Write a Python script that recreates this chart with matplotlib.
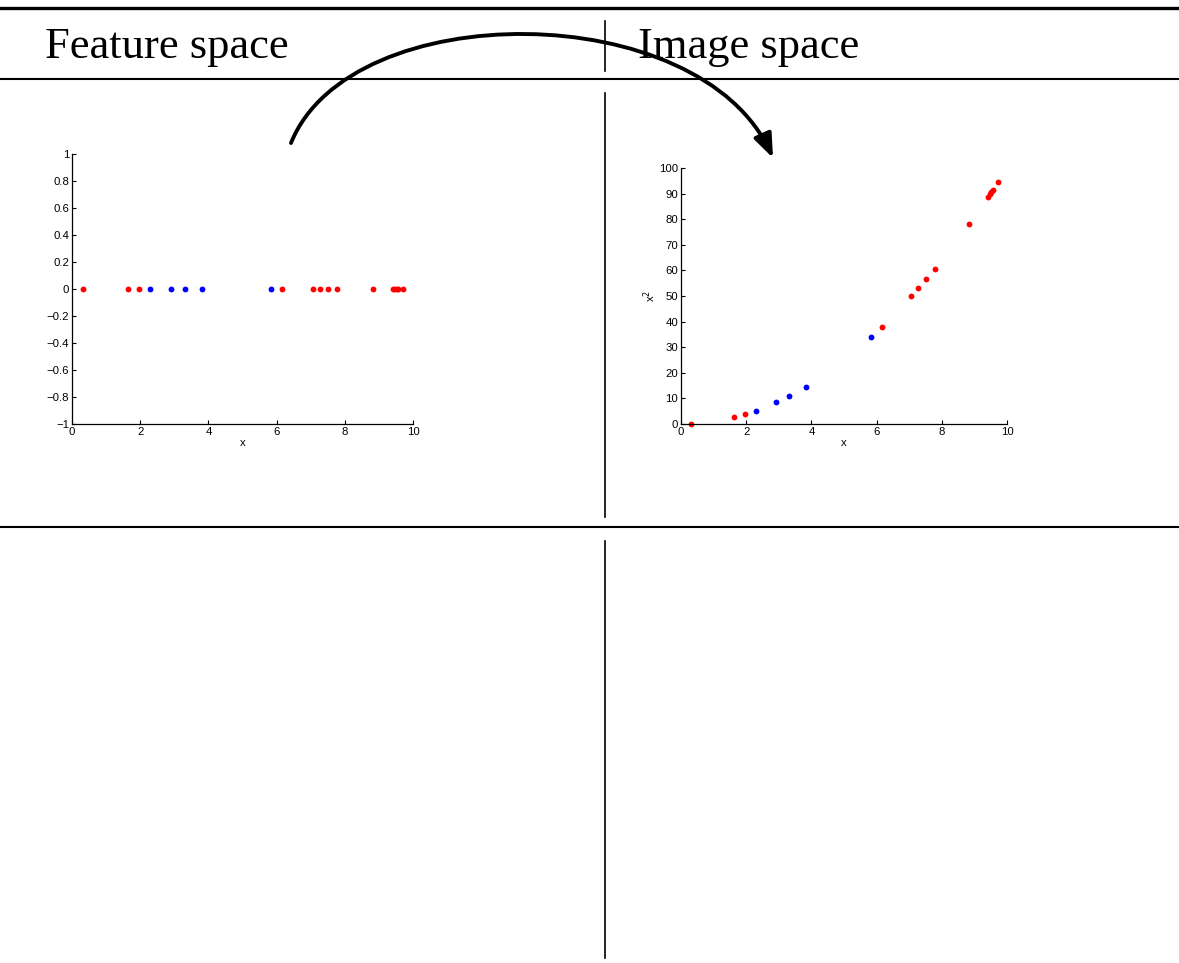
import numpy as np
import matplotlib.pyplot as plt
from matplotlib.lines import Line2D
from matplotlib.patches import FancyArrowPatch
from matplotlib.path import Path

# data
red_x = [0.32, 1.64, 1.97, 6.16, 7.07, 7.28, 7.52, 7.78, 8.83, 9.42, 9.47, 9.52, 9.57, 9.72]
blue_x = [2.29, 2.91, 3.32, 3.82, 5.84]
left_yticks = [-1, -0.8, -0.6, -0.4, -0.2, 0, 0.2, 0.4, 0.6, 0.8, 1]
left_yticklabels = ['\u22121', '\u22120.8', '\u22120.6', '\u22120.4', '\u22120.2', '0',
                    '0.2', '0.4', '0.6', '0.8', '1']
right_yticks = [0, 10, 20, 30, 40, 50, 60, 70, 80, 90, 100]
xticks = [0, 2, 4, 6, 8, 10]
headers = ['Feature space', 'Image space']

W, H = 1179, 963
fig = plt.figure(figsize=(W / 100, H / 100), dpi=100)


def fx(px):
    return px / W


def fy(py):
    return 1 - py / H


def style_axes(ax):
    for s in ['top', 'right']:
        ax.spines[s].set_visible(False)
    for s in ['left', 'bottom']:
        ax.spines[s].set_linewidth(0.9)
    ax.tick_params(direction='in', length=3, width=0.8, labelsize=8.2, pad=2)
    for lab in ax.get_xticklabels() + ax.get_yticklabels():
        lab.set_fontfamily('Liberation Sans')


red_x = np.array(red_x)
blue_x = np.array(blue_x)

# left: feature space (1D)
ax1 = fig.add_axes([fx(72), fy(424), fx(413 - 72), (424 - 154) / H])
ax1.plot(red_x, np.zeros_like(red_x), 'o', color='red', ms=4.2, mec='none')
ax1.plot(blue_x, np.zeros_like(blue_x), 'o', color='blue', ms=4.2, mec='none')
ax1.set_xlim(0, 10)
ax1.set_ylim(-1, 1)
ax1.set_xticks(xticks)
ax1.set_yticks(left_yticks)
ax1.set_yticklabels(left_yticklabels)
ax1.set_xlabel('x', fontsize=8.2, family='Liberation Sans', labelpad=1)
style_axes(ax1)

# right: image space (x, x^2)
ax2 = fig.add_axes([fx(681), fy(424), fx(1007 - 681), (424 - 168) / H])
ax2.plot(red_x, red_x ** 2, 'o', color='red', ms=4.2, mec='none', clip_on=False)
ax2.plot(blue_x, blue_x ** 2, 'o', color='blue', ms=4.2, mec='none')
ax2.set_xlim(0, 10)
ax2.set_ylim(0, 100)
ax2.set_xticks(xticks)
ax2.set_yticks(right_yticks)
ax2.set_xlabel('x', fontsize=8.2, family='Liberation Sans', labelpad=1)
ax2.set_ylabel(r'x$^2$', fontsize=8.2, family='Liberation Sans', labelpad=1)
style_axes(ax2)

# table rules
fig.add_artist(Line2D([0, 1], [fy(8), fy(8)], transform=fig.transFigure, color='black', lw=2.4))
fig.add_artist(Line2D([0, 1], [fy(79), fy(79)], transform=fig.transFigure, color='black', lw=1.5))
fig.add_artist(Line2D([0, 1], [fy(527), fy(527)], transform=fig.transFigure, color='black', lw=1.5))
for y0, y1 in [(21, 71), (93, 517), (541, 958)]:
    fig.add_artist(Line2D([fx(605), fx(605)], [fy(y0), fy(y1)], transform=fig.transFigure,
                          color='black', lw=1.2))

fig.text(fx(45), fy(58), headers[0], fontsize=32, family='Liberation Serif', va='baseline', ha='left')
fig.text(fx(638), fy(58), headers[1], fontsize=32, family='Liberation Serif', va='baseline', ha='left')

# curved arrow from feature space to image space
verts = [(fx(291), fy(143)), (fx(350), fy(-4)), (fx(700), fy(-4)), (fx(773), fy(158))]
codes = [Path.MOVETO, Path.CURVE4, Path.CURVE4, Path.CURVE4]
arrow = FancyArrowPatch(path=Path(verts, codes), transform=fig.transFigure,
                        arrowstyle='-|>,head_length=9,head_width=3.5', lw=2.8,
                        color='black', mutation_scale=1.6)
fig.add_artist(arrow)

fig.savefig('out.png', dpi=100)
